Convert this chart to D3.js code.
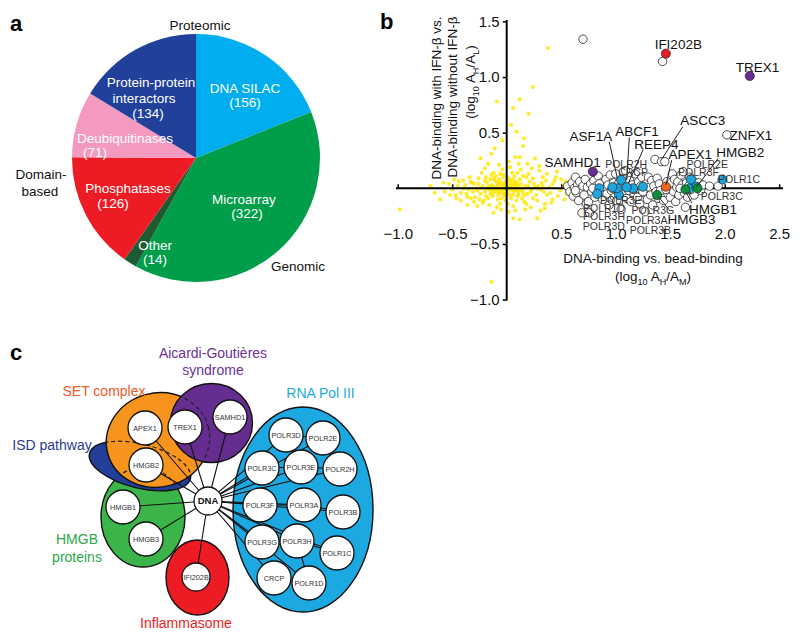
<!DOCTYPE html>
<html><head><meta charset="utf-8">
<script src="https://cdn.jsdelivr.net/npm/d3@7"></script>
<style>
body{margin:0;background:#fff}
svg{display:block}
text{font-family:"Liberation Sans",Arial,Helvetica,sans-serif}
</style>
</head><body>
<svg id="chart" width="800" height="640"></svg>
<script>
// ---------------- Panel a data ----------------
const pieCategories = ["DNA SILAC","Microarray","Other","Phosphatases","Deubiquitinases","Protein-protein interactors"];
const pieValues = [156,322,14,126,71,134];
const pieColors = ["#00aeef","#009d4a","#1d5b33","#ed1c24","#f49ac1","#21409a"];
const pieGroupLabels = ["Proteomic","Domain-based","Genomic"];

// ---------------- Panel b data ----------------
const xTicks = [-1.0,-0.5,0.5,1.0,1.5,2.0,2.5];
const yTicks = [1.5,1.0,0.5,-0.5,-1.0];
const yellowPts = [
[-0.01,0.00],[0.02,0.02],[-0.04,0.03],[0.04,-0.01],[-0.07,-0.02],[0.07,0.03],[-0.10,0.01],[0.01,-0.03],[-0.03,-0.05],[0.05,0.05],
[-0.06,0.06],[0.09,-0.02],[-0.12,-0.04],[0.11,0.01],[-0.14,0.03],[0.03,0.07],[-0.09,0.05],[0.13,0.04],[-0.16,-0.01],[0.00,0.05],
[-0.02,-0.07],[0.06,-0.06],[-0.11,0.07],[0.15,-0.03],[-0.18,0.05],[0.08,0.06],[-0.05,-0.09],[0.10,-0.07],[-0.20,-0.03],[0.17,0.02],
[-0.08,-0.06],[0.02,0.09],[-0.13,-0.07],[0.12,0.08],[-0.22,0.02],[0.19,-0.05],[-0.15,0.08],[-0.24,-0.05],[0.21,0.06],[-0.03,0.10],
[0.04,-0.09],[-0.26,0.04],[0.14,-0.09],[-0.17,-0.09],[0.23,-0.01],[-0.28,0.00],[0.25,0.04],[-0.01,-0.11],[0.07,0.11],[-0.10,0.11],
[-0.19,0.10],[0.18,0.10],[-0.31,-0.03],[0.27,-0.06],[-0.33,0.06],[0.29,0.02],[-0.06,0.13],[0.01,-0.14],[-0.21,-0.11],[0.16,-0.12],
[-0.35,-0.01],[0.32,0.05],[-0.12,0.14],[0.10,0.14],[-0.26,0.09],[0.24,-0.09],[-0.38,0.03],[0.34,-0.03],[-0.04,0.17],[-0.16,-0.15],
[0.06,-0.16],[0.20,0.13],[-0.29,-0.08],[-0.42,-0.04],[0.36,0.07],[-0.45,0.02],[0.03,0.19],[-0.09,-0.17],[0.13,0.17],[-0.23,0.14],
[0.28,-0.11],[-0.50,-0.01],[0.39,0.01],[-0.34,0.10],[-0.02,0.02],[0.00,-0.01],[-0.05,0.00],[0.03,0.01],[-0.08,0.02],[0.05,0.00],
[-0.11,-0.01],[0.08,0.02],[-0.03,0.04],[-0.14,-0.02],[0.06,-0.03],[-0.07,0.04],[0.10,0.03],[-0.02,-0.04],[-0.16,0.02],[0.12,-0.02],
[-0.09,-0.03],[-0.98,-0.19],[-0.61,-0.10],[-0.47,-0.06],[-0.40,0.00],[-0.36,-0.08],[-0.42,-0.11],[-0.30,-0.12],[-0.44,0.06],[-0.32,0.05],
[-0.22,-0.13],[-0.14,-0.84],[0.12,-0.28],[0.06,-0.27],[0.31,-0.20],[-0.12,-0.22],[0.38,1.26],[0.24,0.91],[0.12,0.80],[-0.09,0.78],
[0.06,0.72],[0.20,0.67],[0.09,0.51],[-0.14,0.31],[0.08,0.28],[0.12,0.28],[0.23,0.18],[0.37,0.13],[0.44,0.07],[0.49,-0.02],
[0.40,-0.04],[0.28,0.00],[0.15,0.38],[-0.04,0.43],[0.02,0.24],[-0.07,0.21],[0.19,0.22],[0.30,0.16],[0.45,0.10],[0.52,0.03],
[0.47,-0.07],[0.42,-0.10],[0.35,-0.14],[0.22,-0.17],[0.02,-0.21],[-0.05,-0.19],[-0.27,-0.16],[-0.53,0.04],[-0.57,-0.03],[-0.48,0.08],
[0.55,-0.05],[0.54,0.06],[0.33,0.10],[-0.20,0.18],[0.17,-0.19],[-0.36,-0.15],[0.26,0.27],[-0.11,0.36],[0.04,0.57],[0.16,0.45],
[-0.04,-0.02],[0.01,0.04],[-0.06,-0.04],[0.04,0.03],[-0.09,0.00],[0.07,-0.01],[-0.13,0.02],[0.09,0.05],[-0.01,0.06],[-0.07,0.08],
[0.14,0.00],[-0.18,0.00],[0.16,-0.06],[-0.20,0.07],[0.11,-0.05],[-0.24,0.00],[0.20,0.02],[-0.01,-0.06],[0.03,-0.06],[-0.12,0.09],
[0.06,0.08],[-0.15,-0.05],[0.22,-0.03],[-0.27,-0.02],[0.26,0.01],[-0.30,0.04],[0.31,-0.01],[-0.03,0.12],[0.09,-0.11],[-0.08,-0.10],
[0.15,0.11],[-0.19,-0.07],[0.33,0.02],[-0.37,-0.05],[0.37,-0.06],[-0.40,0.07],[0.42,0.04],[-0.25,-0.10],[0.24,0.09],[-0.33,-0.09],
[0.05,0.14],[-0.14,0.12],[0.18,-0.14],[-0.06,-0.14],[0.41,-0.13],[-0.52,-0.06],[0.50,0.08],[-0.46,-0.09],[0.30,0.20],[0.11,0.22],
[-0.17,0.22],[0.08,-0.20],[-0.24,0.27],[0.35,-0.18],[0.46,0.15],[-0.58,0.05],[-0.66,-0.04],[-0.70,0.02],[0.53,-0.10],[0.28,-0.27]
];
const openPts = [
[0.56,0.02],[0.58,-0.03],[0.60,0.05],[0.61,-0.07],[0.62,0.00],[0.63,0.10],[0.64,-0.04],[0.65,0.03],[0.66,-0.11],[0.67,0.06],
[0.68,-0.01],[0.69,-0.22],[0.70,1.34],[0.70,0.02],[0.71,-0.06],[0.72,0.08],[0.73,-0.14],[0.74,0.01],[0.75,-0.12],[0.76,-0.22],
[0.77,0.04],[0.78,-0.03],[0.80,0.07],[0.81,-0.08],[0.82,0.02],[0.84,0.11],[0.86,-0.02],[0.87,0.05],[0.88,-0.10],[0.90,0.01],
[0.91,0.08],[0.92,-0.05],[0.93,0.03],[0.94,-0.15],[0.95,0.12],[0.96,-0.02],[0.98,0.05],[0.99,-0.08],[1.00,0.13],[1.01,-0.11],
[1.02,0.03],[1.04,-0.03],[1.05,-0.19],[1.06,0.09],[1.07,-0.06],[1.08,0.02],[1.09,0.16],[1.10,-0.09],[1.11,0.05],[1.12,-0.02],
[1.13,0.07],[1.14,-0.12],[1.15,0.03],[1.17,-0.05],[1.18,0.13],[1.19,0.00],[1.20,-0.08],[1.21,0.06],[1.22,-0.14],[1.23,0.02],
[1.24,0.10],[1.26,-0.04],[1.27,-0.21],[1.28,0.04],[1.29,-0.10],[1.30,0.10],[1.31,0.01],[1.32,-0.06],[1.33,0.07],[1.34,-0.15],
[1.35,0.02],[1.36,0.26],[1.37,-0.03],[1.38,0.09],[1.39,-0.09],[1.40,0.04],[1.41,-0.02],[1.42,0.24],[1.43,1.14],[1.44,-0.11],
[1.45,0.24],[1.47,0.06],[1.48,-0.05],[1.49,0.02],[1.50,-0.08],[1.51,0.05],[1.52,0.13],[1.53,-0.03],[1.54,0.08],[1.55,-0.12],
[1.56,0.01],[1.57,0.06],[1.58,-0.06],[1.60,0.12],[1.61,0.03],[1.62,0.15],[1.63,-0.04],[1.64,-0.17],[1.65,0.05],[1.66,-0.08],
[1.67,0.02],[1.68,0.10],[1.70,-0.03],[1.71,0.07],[1.72,-0.06],[1.73,0.03],[1.76,0.05],[1.78,-0.02],[1.80,0.03],[1.86,0.02],
[1.94,0.02],[2.02,0.48],[0.63,-0.02],[0.79,0.00],[0.85,0.04],[0.97,0.00],[1.03,0.05],[1.16,-0.01],[1.25,-0.03],[1.46,-0.01],
[1.59,0.00],[1.69,-0.01]
];
const rnaPolPts = [[0.85,0.00],[0.83,-0.05],[1.05,0.075],[1.03,-0.06],[1.01,0.00],[1.16,0.00],[1.25,0.015],[1.68,0.00],[1.69,0.08],[1.74,0.015],[1.98,0.08],[1.10,0.01],[0.97,0.01]];
const setPts = [[1.46,0.015]];
const hmgbPts = [[1.38,-0.06],[1.64,-0.01],[1.75,0.00]];
const agsPts = [[2.23,1.01],[0.79,0.15]];
const inflamPts = [[1.46,1.21]];
const bigLabels = [
["IFI202B",1.574,1.296],["TREX1",2.301,1.084],["ASCC3",1.799,0.607],["ZNFX1",2.241,0.479],["ASF1A",0.772,0.464],
["ABCF1",1.195,0.509],["REEP4",1.374,0.398],["APEX1",1.684,0.308],["HMGB2",2.143,0.320],["SAMHD1",0.606,0.230],
["HMGB1",1.893,-0.189],["HMGB3",1.695,-0.279]
];
const smallLabels = [
["POLR2H",1.096,0.216],["CRCP",1.159,0.140],["POLR2E",1.840,0.218],["POLR3F",1.760,0.140],["POLR1C",2.131,0.084],
["POLR3C",1.973,-0.069],["POLR3E",1.047,-0.105],["POLR1D",0.893,-0.180],["POLR3G",1.341,-0.201],["POLR3H",0.893,-0.255],
["POLR3A",1.285,-0.291],["POLR3D",0.891,-0.345],["POLR3B",1.318,-0.375]
];
const leaders = [
[0.941,0.419,1.015,0.090],[1.125,0.458,1.101,0.075],[1.253,0.350,1.116,0.045],[1.615,0.553,1.422,0.261],
[1.514,0.254,1.461,0.030],[1.941,0.270,1.743,0.014],[1.699,-0.132,1.644,-0.033],[1.498,-0.204,1.397,-0.079]
];

// ---------------- Panel c data ----------------
const cGroupNames = ["Aicardi-Goutières syndrome","SET complex","RNA Pol III","ISD pathway","HMGB proteins","Inflammasome"];
const cNodeNames = ["DNA","APEX1","TREX1","SAMHD1","HMGB2","HMGB1","HMGB3","IFI202B",
  "POLR3D","POLR2E","POLR3C","POLR3E","POLR2H","POLR3F","POLR3A","POLR3B","POLR3G","POLR3H","POLR1C","CRCP","POLR1D"];
const cExtraEdges = [["POLR3F","POLR3A"],["POLR3A","POLR3B"],["POLR3G","POLR3H"],["POLR3H","POLR1C"],["POLR3E","POLR2H"],["POLR3C","POLR3E"],["POLR3D","POLR2E"],["POLR3H","POLR1D"]];

// ================= drawing =================
const svg = d3.select("#chart");
svg.append("rect").attr("width",800).attr("height",640).attr("fill","#fff");
const FONT = '"Liberation Sans",Arial,Helvetica,sans-serif';

// ---- panel letters
[["a",10,31],["b",380,29],["c",10,360]].forEach(([t,x,y])=>{
  svg.append("text").attr("x",x).attr("y",y).attr("font-size",22).attr("font-weight","bold").text(t);
});

// ---- Panel a: pie
{
  const g = svg.append("g").attr("transform","translate(196,158)");
  const pie = d3.pie().sort(null).value(d=>d);
  const arc = d3.arc().innerRadius(0).outerRadius(124);
  const arcs = pie(pieValues);
  g.selectAll("path").data(arcs).join("path").attr("d",arc).attr("fill",(d,i)=>pieColors[i]);
  const labelLayout = [
    [["DNA SILAC",49,-70],["(156)",49,-56]],
    [["Microarray",48,41],["(322)",51,55]],
    [["Other",-41,87],["(14)",-41,101]],
    [["Phosphatases",-68,30],["(126)",-83,45]],
    [["Deubiquitinases",-71,-20],["(71)",-101,-6]],
    [["Protein-protein",-45,-76],["interactors",-52,-60],["(134)",-48,-45]]
  ];
  labelLayout.forEach((lines,i)=>{
    lines.forEach(([t,x,y])=>{
      g.append("text").attr("x",x).attr("y",y).attr("dy","0.35em").attr("text-anchor","middle")
        .attr("fill","#fff").attr("font-size",13.5).text(t);
    });
  });
  const outer = svg.append("g").attr("font-size",13.5).attr("fill","#111");
  outer.append("text").attr("x",200).attr("y",25).attr("dy","0.35em").attr("text-anchor","middle").text(pieGroupLabels[0]);
  outer.append("text").attr("x",41).attr("y",174).attr("dy","0.35em").attr("text-anchor","middle").text("Domain-");
  outer.append("text").attr("x",40).attr("y",191).attr("dy","0.35em").attr("text-anchor","middle").text("based");
  outer.append("text").attr("x",298).attr("y",266).attr("dy","0.35em").attr("text-anchor","middle").text(pieGroupLabels[2]);
}

// ---- Panel b: scatter
{
  const x = d3.scaleLinear().domain([-1,2.5]).range([397.7,779.2]);
  const y = d3.scaleLinear().domain([-1,1.5]).range([299.6,21.4]);
  const g = svg.append("g");
  g.append("g").selectAll("circle").data(yellowPts).join("circle")
    .attr("cx",d=>x(d[0])).attr("cy",d=>y(d[1])).attr("r",2.1)
    .attr("fill","#ffe600").attr("fill-opacity",0.8);
  g.append("line").attr("x1",396).attr("x2",783).attr("y1",y(0)).attr("y2",y(0)).attr("stroke","#000").attr("stroke-width",2);
  g.append("line").attr("x1",x(0)).attr("x2",x(0)).attr("y1",20).attr("y2",300.5).attr("stroke","#000").attr("stroke-width",2);
  const yAx = g.append("g").attr("transform",`translate(${x(0)},0)`)
    .call(d3.axisLeft(y).tickValues(yTicks).tickSize(4).tickPadding(3).tickFormat(d3.format(".1f")));
  yAx.select(".domain").remove();
  yAx.selectAll("line").attr("stroke-width",1.5);
  yAx.selectAll("text").attr("font-size",15).attr("font-family",FONT).attr("fill","#111");
  const xAx = g.append("g").attr("transform",`translate(0,${y(0)})`)
    .call(d3.axisBottom(x).tickValues(xTicks).tickSize(-4).tickPadding(40).tickFormat(d3.format(".1f")));
  xAx.select(".domain").remove();
  xAx.selectAll("line").attr("stroke-width",1.5);
  xAx.selectAll("text").attr("font-size",15).attr("font-family",FONT).attr("fill","#111");

  g.append("g").selectAll("circle").data(openPts).join("circle")
    .attr("cx",d=>x(d[0])).attr("cy",d=>y(d[1])).attr("r",4.2)
    .attr("fill","#fff").attr("stroke","#222").attr("stroke-width",0.8);
  const colored = [[rnaPolPts,"#1ba6e0"],[setPts,"#f26522"],[hmgbPts,"#0a8f3c"],[agsPts,"#6b2c91"],[inflamPts,"#e31e24"]];
  colored.forEach(([pts,col])=>{
    g.append("g").selectAll("circle").data(pts).join("circle")
      .attr("cx",d=>x(d[0])).attr("cy",d=>y(d[1])).attr("r",4.6)
      .attr("fill",col).attr("stroke","#222").attr("stroke-width",0.7);
  });
  g.append("g").selectAll("line").data(leaders).join("line")
    .attr("x1",d=>x(d[0])).attr("y1",d=>y(d[1])).attr("x2",d=>x(d[2])).attr("y2",d=>y(d[3]))
    .attr("stroke","#222").attr("stroke-width",1);
  g.append("g").selectAll("text").data(bigLabels).join("text")
    .attr("x",d=>x(d[1])).attr("y",d=>y(d[2])).attr("dy","0.35em").attr("text-anchor","middle")
    .attr("font-size",13.5).attr("fill","#111").text(d=>d[0]);
  g.append("g").selectAll("text").data(smallLabels).join("text")
    .attr("x",d=>x(d[1])).attr("y",d=>y(d[2])).attr("dy","0.35em").attr("text-anchor","middle")
    .attr("font-size",10.5).attr("fill","#333").text(d=>d[0]);
  const t = g.append("g").attr("font-size",13.5).attr("fill","#111");
  t.append("text").attr("x",653).attr("y",258).attr("dy","0.35em").attr("text-anchor","middle").text("DNA-binding vs. bead-binding");
  const xt2 = t.append("text").attr("x",653).attr("y",276).attr("dy","0.35em").attr("text-anchor","middle");
  xt2.append("tspan").text("(log");
  xt2.append("tspan").attr("font-size",9).attr("dy",4).text("10");
  xt2.append("tspan").attr("dy",-4).text(" A");
  xt2.append("tspan").attr("font-size",9).attr("dy",4).text("H");
  xt2.append("tspan").attr("dy",-4).text("/A");
  xt2.append("tspan").attr("font-size",9).attr("dy",4).text("M");
  xt2.append("tspan").attr("dy",-4).text(")");
  t.append("text").attr("transform","translate(436,98) rotate(-90)").attr("dy","0.35em").attr("text-anchor","middle").text("DNA-binding with IFN-β vs.");
  t.append("text").attr("transform","translate(452,97) rotate(-90)").attr("dy","0.35em").attr("text-anchor","middle").text("DNA-binding without IFN-β");
  const yt3 = t.append("text").attr("transform","translate(470,82) rotate(-90)").attr("dy","0.35em").attr("text-anchor","middle");
  yt3.append("tspan").text("(log");
  yt3.append("tspan").attr("font-size",9).attr("dy",4).text("10");
  yt3.append("tspan").attr("dy",-4).text(" A");
  yt3.append("tspan").attr("font-size",9).attr("dy",4).text("H");
  yt3.append("tspan").attr("dy",-4).text("/A");
  yt3.append("tspan").attr("font-size",9).attr("dy",4).text("L");
  yt3.append("tspan").attr("dy",-4).text(")");
}

// ---- Panel c: network diagram
{
  const nodePos = {
    DNA:[208,501], APEX1:[145,428], TREX1:[185,427], SAMHD1:[230,417], HMGB2:[146,465], HMGB1:[123,507], HMGB3:[146,539],
    IFI202B:[196,577], POLR3D:[286,435], POLR2E:[323,438], POLR3C:[262,468], POLR3E:[301,467], POLR2H:[340,469],
    POLR3F:[260,505], POLR3A:[304,505], POLR3B:[343,512], POLR3G:[262,542], POLR3H:[297,541], POLR1C:[337,553],
    CRCP:[274,578], POLR1D:[309,583]
  };
  const ell = {
    green:{cx:143,cy:517,rx:42,ry:50,rot:0,fill:"#3bb54a"},
    blue:{cx:140,cy:466,rx:52,ry:22,rot:14,fill:"#233f99"},
    orange:{cx:158,cy:440,rx:52,ry:47,rot:-15,fill:"#f7941d"},
    purple:{cx:211.5,cy:423,rx:41,ry:39.5,rot:0,fill:"#662d91"},
    red:{cx:197.5,cy:577.5,rx:31.5,ry:37.5,rot:0,fill:"#ed1c24"},
    cyan:{cx:303,cy:509.5,rx:70,ry:102.5,rot:0,fill:"#1ca9e1"}
  };
  const g = svg.append("g");
  const defs = svg.append("defs");
  const drawEll = (sel,e)=> sel.append("ellipse").attr("cx",e.cx).attr("cy",e.cy).attr("rx",e.rx).attr("ry",e.ry)
      .attr("transform",`rotate(${e.rot},${e.cx},${e.cy})`);
  ["orange","purple"].forEach(k=>{ drawEll(defs.append("clipPath").attr("id","clip-"+k), ell[k]); });
  ["green","blue","orange","purple","red","cyan"].forEach(k=>{
    drawEll(g,ell[k]).attr("fill",ell[k].fill).attr("stroke","#111").attr("stroke-width",1.4);
  });
  const dash = g.append("g").attr("fill","none").attr("stroke","#222").attr("stroke-width",1.3).attr("stroke-dasharray","4,3");
  drawEll(dash.append("g").attr("clip-path","url(#clip-orange)"),ell.blue);
  drawEll(dash.append("g").attr("clip-path","url(#clip-orange)"),ell.green);
  drawEll(dash.append("g").attr("clip-path","url(#clip-purple)"),ell.orange);

  const edges = cNodeNames.filter(n=>n!=="DNA").map(n=>["DNA",n]).concat(cExtraEdges);
  g.append("g").selectAll("line").data(edges).join("line")
    .attr("x1",d=>nodePos[d[0]][0]).attr("y1",d=>nodePos[d[0]][1])
    .attr("x2",d=>nodePos[d[1]][0]).attr("y2",d=>nodePos[d[1]][1])
    .attr("stroke","#111").attr("stroke-width",1.1);
  const ng = g.append("g").selectAll("g").data(cNodeNames).join("g")
    .attr("transform",d=>`translate(${nodePos[d][0]},${nodePos[d][1]})`);
  ng.append("circle").attr("r",d=>d==="DNA"?14:(d==="IFI202B"?14:17))
    .attr("fill","#fff").attr("stroke","#111").attr("stroke-width",1.3);
  ng.append("text").attr("text-anchor","middle").attr("dy","0.35em")
    .attr("font-size",d=>d==="DNA"?9.5:7.3).attr("font-weight",d=>d==="DNA"?"bold":"normal")
    .attr("fill",d=>d==="DNA"?"#111":"#333").text(d=>d);

  const gl = [
    ["Aicardi-Goutières",213,353,"#6d3196"],["syndrome",213,370,"#6d3196"],
    ["SET complex",104,391,"#f15a29"],["RNA Pol III",320.5,393,"#1ca9e1"],
    ["ISD pathway",52,445,"#2b3a8f"],["HMGB",77,539,"#2ea84a"],["proteins",77,557,"#2ea84a"],
    ["Inflammasome",186,623,"#ed1c24"]
  ];
  svg.append("g").selectAll("text").data(gl).join("text")
    .attr("x",d=>d[1]).attr("y",d=>d[2]).attr("dy","0.35em").attr("text-anchor","middle")
    .attr("font-size",14).attr("fill",d=>d[3]).text(d=>d[0]);
}
</script>
</body></html>
